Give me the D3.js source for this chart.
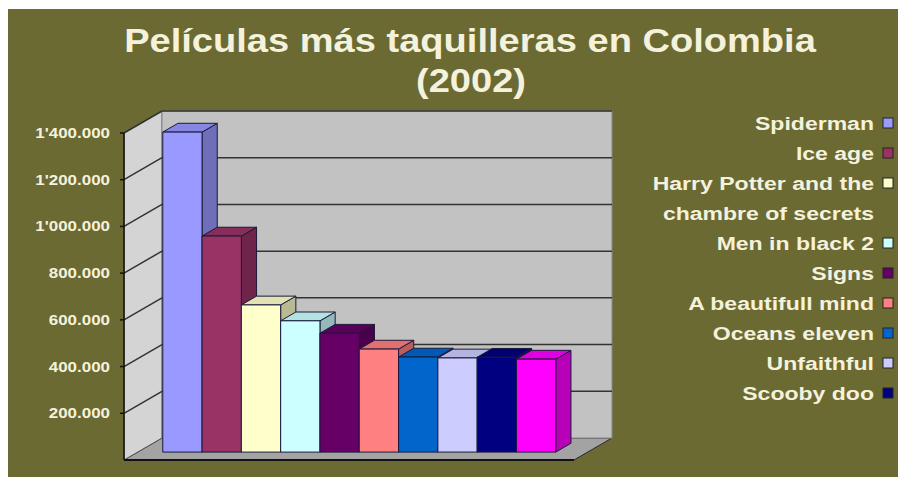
<!DOCTYPE html>
<html>
<head>
<meta charset="utf-8">
<script src="https://cdnjs.cloudflare.com/ajax/libs/d3/7.8.5/d3.min.js"></script>
<style>
  body { margin: 0; background: #fff; }
  text { font-family: "Liberation Sans", Arial, sans-serif; font-weight: bold; }
</style>
</head>
<body>
<div id="chart"></div>
<script>
var movies = ["Spiderman", "Ice age", "Harry Potter and the chambre of secrets", "Men in black 2",
              "Signs", "A beautifull mind", "Oceans eleven", "Unfaithful", "Scooby doo", "(sin nombre)"];
var viewers = [1370000, 925000, 630000, 562000, 509000, 441000, 407000, 403000, 406000, 398000];
var colors = ["#9999ff", "#993366", "#ffffcc", "#ccffff", "#660066",
              "#ff8080", "#0066cc", "#ccccff", "#000080", "#ff00ff"];
var yTicks = [200000, 400000, 600000, 800000, 1000000, 1200000, 1400000];
// legend only shows the first nine, the Harry Potter one wraps on two lines
var legendLines = [["Spiderman"], ["Ice age"], ["Harry Potter and the", "chambre of secrets"],
                   ["Men in black 2"], ["Signs"], ["A beautifull mind"], ["Oceans eleven"],
                   ["Unfaithful"], ["Scooby doo"]];

var W = 898, H = 477;
var cream = "#f4f2dc";
var x0 = 124, x1 = 574, y0 = 460;
var dx = 38, dy = -22;      // depth of the walls
var t1 = 0.36, t2 = 0.76;   // front / back of bars, as part of depth

var svg = d3.select("#chart").append("svg")
  .attr("width", W)
  .attr("height", H);

svg.append("rect").attr("width", W).attr("height", H).style("fill", "#fff");
svg.append("rect")
  .attr("x", 8).attr("y", 9)
  .attr("width", W - 8).attr("height", H - 9)
  .style("fill", "#6b6a33");

// title
var title = svg.append("g").attr("transform", "translate(470,52) scale(1.12,1)");
title.append("text")
  .attr("text-anchor", "middle")
  .style("font-size", "34px")
  .style("fill", cream)
  .text("Películas más taquilleras en Colombia");
var title2 = svg.append("g").attr("transform", "translate(471,92) scale(1.12,1)");
title2.append("text")
  .attr("text-anchor", "middle")
  .style("font-size", "34px")
  .style("fill", cream)
  .text("(2002)");

var y = d3.scaleLinear().domain([0, 1400000]).range([y0, 133]);
var x = d3.scaleBand().domain(movies).range([x0, x1])
  .paddingInner(0).paddingOuter(0.725).align(0.44);
var yTop = y(1400000);

function pts(a) { return a.map(function(p) { return p.join(","); }).join(" "); }

function fmt(v) {
  var s = d3.format(",")(v).replace(/,/g, ".");
  if (v >= 1000000) s = s.replace(".", "'");
  return s;
}

// walls and floor
svg.append("polygon")
  .attr("points", pts([[x0, y0], [x1, y0], [x1 + dx, y0 + dy], [x0 + dx, y0 + dy]]))
  .style("fill", "#a3a3a3").style("stroke", "#2a2a2a").style("stroke-width", 1);
svg.append("polygon")
  .attr("points", pts([[x0, y0], [x0 + dx, y0 + dy], [x0 + dx, yTop + dy], [x0, yTop]]))
  .style("fill", "#d4d4d4").style("stroke", "#555").style("stroke-width", 1);
svg.append("rect")
  .attr("x", x0 + dx).attr("y", yTop + dy)
  .attr("width", x1 - x0).attr("height", y0 - yTop)
  .style("fill", "#c2c2c2").style("stroke", "#888").style("stroke-width", 1);

var grid = svg.append("g");
yTicks.forEach(function(t) {
  grid.append("line")
    .attr("x1", x0 + dx).attr("x2", x1 + dx)
    .attr("y1", y(t) + dy).attr("y2", y(t) + dy)
    .style("stroke", "#333").style("stroke-width", 1.5);
  grid.append("line")
    .attr("x1", x0).attr("x2", x0 + dx)
    .attr("y1", y(t)).attr("y2", y(t) + dy)
    .style("stroke", "#333").style("stroke-width", 1.5);
});

// value axis on the front
var axis = svg.append("g");
axis.append("line")
  .attr("x1", x0).attr("x2", x0).attr("y1", yTop).attr("y2", y0)
  .style("stroke", "#111").style("stroke-width", 1.5);
axis.append("line")
  .attr("x1", x0).attr("x2", x1).attr("y1", y0).attr("y2", y0)
  .style("stroke", "#111").style("stroke-width", 2);
yTicks.forEach(function(t) {
  axis.append("line")
    .attr("x1", x0 - 4).attr("x2", x0).attr("y1", y(t)).attr("y2", y(t))
    .style("stroke", "#111").style("stroke-width", 1.5);
  axis.append("g")
    .attr("transform", "translate(110," + (y(t) + 5) + ") scale(1.13,1)")
    .append("text")
    .attr("text-anchor", "end")
    .style("font-size", "15px")
    .style("fill", cream)
    .text(fmt(t));
});

// bars, left to right so the next front face covers the previous side
var bw = x.bandwidth();
var bdx = (t2 - t1) * dx, bdy = (t2 - t1) * dy;
var bottom = y0 + t1 * dy;
var bars = svg.append("g");
movies.forEach(function(m, i) {
  var c = d3.color(colors[i]);
  var bx = x(m) + t1 * dx, by = y(viewers[i]) + t1 * dy;
  var g = bars.append("g")
    .style("stroke", "#1a1a3a").style("stroke-width", 1).style("stroke-linejoin", "round");
  g.append("polygon")
    .attr("points", pts([[bx + bw, by], [bx + bw + bdx, by + bdy], [bx + bw + bdx, bottom + bdy], [bx + bw, bottom]]))
    .style("fill", c.darker(0.9));
  g.append("polygon")
    .attr("points", pts([[bx, by], [bx + bw, by], [bx + bw + bdx, by + bdy], [bx + bdx, by + bdy]]))
    .style("fill", c.darker(0.35));
  g.append("rect")
    .attr("x", bx).attr("y", by)
    .attr("width", bw).attr("height", bottom - by)
    .style("fill", c);
});

// legend
var legend = svg.append("g");
var row = 0;
legendLines.forEach(function(lines, i) {
  var cy = 123 + row * 30;
  legend.append("rect")
    .attr("x", 883).attr("y", cy - 5)
    .attr("width", 10).attr("height", 10)
    .style("fill", colors[i]).style("stroke", "#222").style("stroke-width", 1);
  lines.forEach(function(l) {
    legend.append("g")
      .attr("transform", "translate(874," + (123 + row * 30 + 6.5) + ") scale(1.28,1)")
      .append("text")
      .attr("text-anchor", "end")
      .style("font-size", "18px")
      .style("fill", cream)
      .text(l);
    row++;
  });
});
</script>
</body>
</html>
